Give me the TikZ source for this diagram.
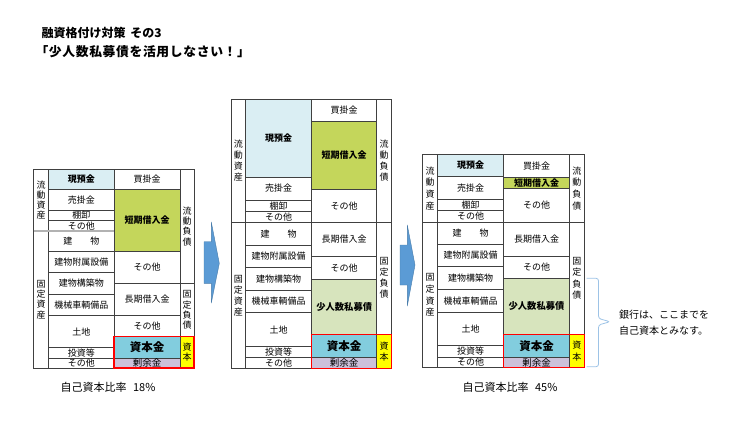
\documentclass[tikz,border=0pt]{standalone}
\usepackage{fontspec}
\setmainfont{Noto Sans CJK JP}
\definecolor{linec}{HTML}{404040}
\definecolor{genc}{HTML}{DAEEF3}
\definecolor{tankc}{HTML}{C4D65B}
\definecolor{shic}{HTML}{D7E4BD}
\definecolor{shkc}{HTML}{82CDDE}
\definecolor{jyoc}{HTML}{CCC1DA}
\definecolor{yelc}{HTML}{FFFF00}
\definecolor{arrc}{HTML}{5B9BD5}
\definecolor{bracec}{HTML}{9DC3E6}
\newcommand\bscell[7]{\node[cellbox,#6,minimum width={(#4-#2)*1pt},minimum height={(#5-#3)*1pt},anchor=north west] (#1) at (#2,#3) {#7};}
\begin{document}
\begin{tikzpicture}[x=1pt,y=-1pt,
  cellbox/.style={draw=linec,line width=0.7pt,inner sep=0pt,outer sep=0pt,font=\fontsize{9}{11}\selectfont,align=center},
  vlab/.style={font=\fontsize{9}{11}\selectfont},
  vlabA/.style={font=\fontsize{9}{10.2}\selectfont},
  vlabC/.style={font=\fontsize{9}{11.6}\selectfont},
  plain/.style={},
  gen/.style={fill=genc,font=\bfseries\fontsize{9}{11}\selectfont},
  tank/.style={fill=tankc,font=\bfseries\fontsize{9}{11}\selectfont},
  shi/.style={fill=shic,font=\bfseries\fontsize{9.3}{11}\selectfont},
  shk/.style={fill=shkc,font=\bfseries\fontsize{11.5}{13}\selectfont},
  jyo/.style={fill=jyoc,font=\fontsize{9.5}{11}\selectfont},
  yel/.style={fill=yelc},
  redbox/.style={draw=red,line width=1.2pt},
  arrowshape/.style={fill=arrc,draw=arrc!80!black,line width=0.4pt},
  bracel/.style={draw=bracec,line width=0.8pt,rounded corners=2.5pt},
  title/.style={anchor=west,font=\bfseries\fontsize{12}{14}\selectfont},
  titleb/.style={anchor=west,font=\bfseries\fontsize{12.8}{14}\selectfont\addfontfeature{LetterSpace=5}},
  ratio/.style={anchor=west,font=\fontsize{11}{12}\selectfont},
  note/.style={anchor=west,align=left,font=\fontsize{10}{15.7}\selectfont}
]
\useasboundingbox (0,0) rectangle (730,422);

% titles
\node[title] (t1) at (38,33) {融資格付け対策\hspace{0.4em}その3};
\node[titleb] (t2) at (32,52) {「少人数私募債を活用しなさい！」};

% ===== Table A (left) =====
\bscell{A-ryu}{33.5}{169.5}{48.5}{231}{vlabA}{流\\動\\資\\産}
\bscell{A-kot}{33.5}{231}{48.5}{368}{vlabA}{固\\定\\資\\産}
\bscell{A-a1}{48.5}{169.5}{114}{189.5}{gen}{現預金}
\bscell{A-a2}{48.5}{189.5}{114}{210}{plain}{売掛金}
\bscell{A-a3}{48.5}{210}{114}{220.5}{plain}{棚卸}
\bscell{A-a4}{48.5}{220.5}{114}{231}{plain}{その他}
\bscell{A-a5}{48.5}{231}{114}{251}{plain}{建　　物}
\bscell{A-a6}{48.5}{251}{114}{272.5}{plain}{建物附属設備}
\bscell{A-a7}{48.5}{272.5}{114}{294}{plain}{建物構築物}
\bscell{A-a8}{48.5}{294}{114}{315.5}{plain}{機械車輌備品}
\bscell{A-a9}{48.5}{315.5}{114}{347.5}{plain}{土地}
\bscell{A-a10}{48.5}{347.5}{114}{358}{plain}{投資等}
\bscell{A-a11}{48.5}{358}{114}{368}{plain}{その他}
\bscell{A-l1}{114}{169.5}{180}{189.5}{plain}{買掛金}
\bscell{A-l2}{114}{189.5}{180}{251}{tank}{短期借入金}
\bscell{A-l3}{114}{251}{180}{283.5}{plain}{その他}
\bscell{A-l4}{114}{283.5}{180}{315.5}{plain}{長期借入金}
\bscell{A-l5}{114}{315.5}{180}{336.5}{plain}{その他}
\bscell{A-l6}{114}{336.5}{180}{358.3}{shk}{資本金}
\bscell{A-l7}{114}{358.3}{180}{368}{jyo}{剰余金}
\bscell{A-f1}{180}{169.5}{194}{283.5}{vlabA}{流\\動\\負\\債}
\bscell{A-f2}{180}{283.5}{194}{336.5}{vlabA}{固\\定\\負\\債}
\bscell{A-f3}{180}{336.5}{194}{368}{yel,vlabA}{資\\本}
\draw[draw=gray!60,line width=1.6pt] (A-ryu.south west) -- (A-a4.south east);
\draw[redbox] (A-l6.north west) rectangle (A-f3.south east);

% ===== Table B (middle) =====
\bscell{B-ryu}{231}{99}{245.7}{222.3}{vlab}{流\\動\\資\\産}
\bscell{B-kot}{231}{222.3}{245.7}{368.3}{vlab}{固\\定\\資\\産}
\bscell{B-a1}{245.7}{99}{311.7}{177}{gen}{現預金}
\bscell{B-a2}{245.7}{177}{311.7}{200}{plain}{売掛金}
\bscell{B-a3}{245.7}{200}{311.7}{211.7}{plain}{棚卸}
\bscell{B-a4}{245.7}{211.7}{311.7}{222.3}{plain}{その他}
\bscell{B-a5}{245.7}{222.3}{311.7}{245}{plain}{建　　物}
\bscell{B-a6}{245.7}{245}{311.7}{267.3}{plain}{建物附属設備}
\bscell{B-a7}{245.7}{267.3}{311.7}{290}{plain}{建物構築物}
\bscell{B-a8}{245.7}{290}{311.7}{312.3}{plain}{機械車輌備品}
\bscell{B-a9}{245.7}{312.3}{311.7}{346.7}{plain}{土地}
\bscell{B-a10}{245.7}{346.7}{311.7}{357.3}{plain}{投資等}
\bscell{B-a11}{245.7}{357.3}{311.7}{368.3}{plain}{その他}
\bscell{B-l1}{311.7}{99}{376.7}{121.7}{plain}{買掛金}
\bscell{B-l2}{311.7}{121.7}{376.7}{189}{tank}{短期借入金}
\bscell{B-l3}{311.7}{189}{376.7}{222.3}{plain}{その他}
\bscell{B-l4}{311.7}{222.3}{376.7}{256.7}{plain}{長期借入金}
\bscell{B-l5}{311.7}{256.7}{376.7}{279.3}{plain}{その他}
\bscell{B-l6}{311.7}{279.3}{376.7}{334.3}{shi}{少人数私募債}
\bscell{B-l7}{311.7}{334.3}{376.7}{357.7}{shk}{資本金}
\bscell{B-l8}{311.7}{357.7}{376.7}{368.3}{jyo}{剰余金}
\bscell{B-f1}{376.7}{99}{391.7}{222.3}{vlab}{流\\動\\負\\債}
\bscell{B-f2}{376.7}{222.3}{391.7}{334.3}{vlab}{固\\定\\負\\債}
\bscell{B-f3}{376.7}{334.3}{391.7}{368.3}{yel,vlab}{資\\本}
\draw[redbox] (B-l7.north west) rectangle (B-f3.south east);

% ===== Table C (right) =====
\bscell{C-ryu}{422.3}{154.3}{437.7}{222.3}{vlabC}{流\\動\\資\\産}
\bscell{C-kot}{422.3}{222.3}{437.7}{367.7}{vlabC}{固\\定\\資\\産}
\bscell{C-a1}{437.7}{154.3}{503.7}{176.7}{gen}{現預金}
\bscell{C-a2}{437.7}{176.7}{503.7}{199.3}{plain}{売掛金}
\bscell{C-a3}{437.7}{199.3}{503.7}{210.7}{plain}{棚卸}
\bscell{C-a4}{437.7}{210.7}{503.7}{222.3}{plain}{その他}
\bscell{C-a5}{437.7}{222.3}{503.7}{244.3}{plain}{建　　物}
\bscell{C-a6}{437.7}{244.3}{503.7}{266.7}{plain}{建物附属設備}
\bscell{C-a7}{437.7}{266.7}{503.7}{289}{plain}{建物構築物}
\bscell{C-a8}{437.7}{289}{503.7}{312.3}{plain}{機械車輌備品}
\bscell{C-a9}{437.7}{312.3}{503.7}{345.7}{plain}{土地}
\bscell{C-a10}{437.7}{345.7}{503.7}{357}{plain}{投資等}
\bscell{C-a11}{437.7}{357}{503.7}{367.7}{plain}{その他}
\bscell{C-l1}{503.7}{154.3}{569.3}{177.3}{plain}{買掛金}
\bscell{C-l2}{503.7}{177.3}{569.3}{188.3}{tank}{短期借入金}
\bscell{C-l3}{503.7}{188.3}{569.3}{222.3}{plain}{その他}
\bscell{C-l4}{503.7}{222.3}{569.3}{256}{plain}{長期借入金}
\bscell{C-l5}{503.7}{256}{569.3}{278.3}{plain}{その他}
\bscell{C-l6}{503.7}{278.3}{569.3}{334.3}{shi}{少人数私募債}
\bscell{C-l7}{503.7}{334.3}{569.3}{357.7}{shk}{資本金}
\bscell{C-l8}{503.7}{357.7}{569.3}{367.7}{jyo}{剰余金}
\bscell{C-f1}{569.3}{154.3}{584.3}{222.3}{vlabC}{流\\動\\負\\債}
\bscell{C-f2}{569.3}{222.3}{584.3}{334.3}{vlabC}{固\\定\\負\\債}
\bscell{C-f3}{569.3}{334.3}{584.3}{367.7}{yel,vlabC}{資\\本}
\draw[redbox] (C-l7.north west) rectangle (C-f3.south east);

% arrows
\draw[arrowshape] (204,241.7) -- (211.3,241.7) -- (211.3,222) -- (219.3,263.3) -- (211.3,303) -- (211.3,283.3) -- (204,283.3) -- cycle;
\draw[arrowshape] (400,245) -- (407.3,245) -- (407.3,225) -- (415,265) -- (407.3,306) -- (407.3,285) -- (400,285) -- cycle;

% brace and note
\draw[bracel] (586.7,278.3) -- (598.5,278.3) -- (598.5,318.5) -- (610,321.7) -- (598.5,325) -- (598.5,366.7) -- (586.7,366.7);
\node[note] (nt) at (615.5,323) {銀行は、ここまでを\\自己資本とみなす。};

% ratios
\node[ratio] (r1) at (57,387) {自己資本比率\hspace{0.6em}18\%};
\node[ratio] (r2) at (459,387) {自己資本比率\hspace{0.6em}45\%};
\end{tikzpicture}
\end{document}
